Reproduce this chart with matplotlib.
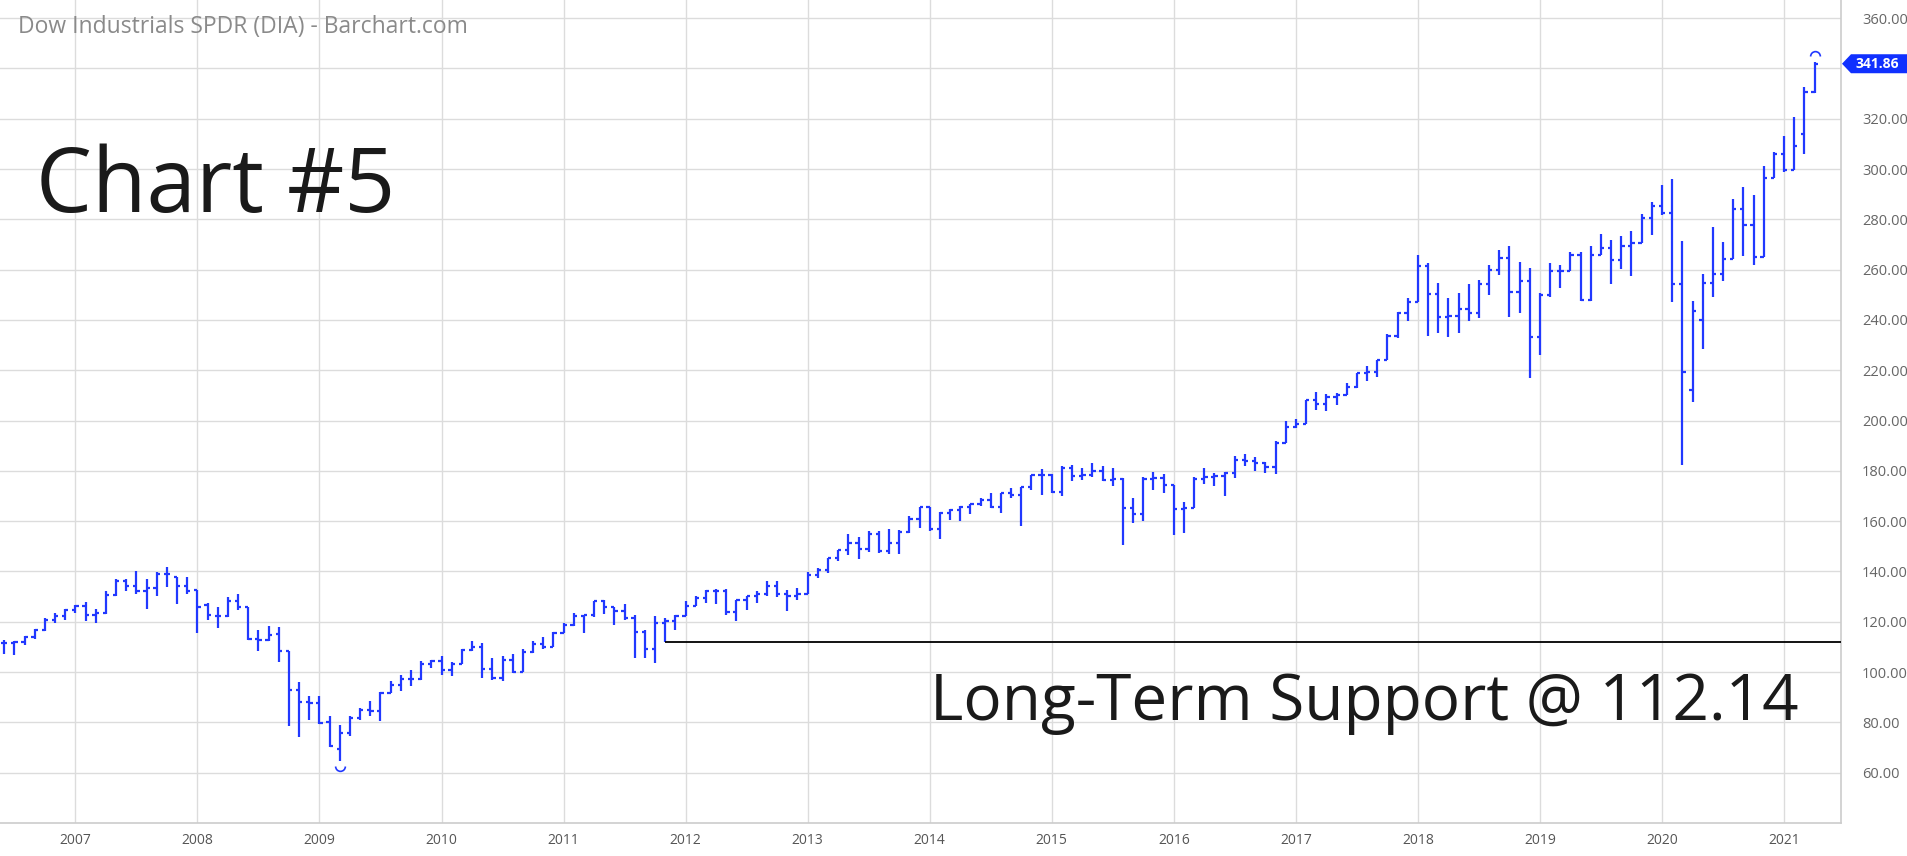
import matplotlib
matplotlib.use("Agg")
import matplotlib.pyplot as plt
from matplotlib.path import Path
from matplotlib.patches import Polygon
import pandas as pd

# monthly OHLC, Jun 2006 -> Apr 2021
opens = [111.7, 111.5, 111.9, 113.8, 116.8, 120.8, 122.2,
         124.6, 126.2, 122.7, 123.5, 130.6, 136.3, 134.1, 132.1, 133.6, 138.9, 137.9, 134.1,
         132.5, 126.8, 122.2, 122.4, 128.1, 126.0, 113.0, 112.8, 115.0, 108.3, 93.0, 88.0,
         87.7, 80.0, 69.5, 75.8, 81.8, 85.0, 84.5, 91.7, 95.0, 97.1, 97.1, 103.4,
         104.3, 100.7, 103.3, 108.6, 110.1, 101.4, 97.7, 104.7, 100.1, 107.9, 111.2, 110.1,
         115.6, 118.9, 122.3, 122.6, 128.1, 125.7, 124.1, 121.4, 116.1, 109.1, 119.6, 120.5,
         122.2, 126.3, 129.5, 132.1, 132.1, 123.9, 128.8, 130.1, 130.9, 134.4, 131.0, 130.3,
         131.0, 138.6, 140.5, 145.3, 148.4, 151.2, 149.1, 155.0, 148.1, 151.3, 155.5, 160.9,
         165.5, 157.0, 163.2, 164.6, 165.8, 166.7, 168.3, 165.6, 171.0, 170.4, 173.4, 178.3,
         178.2, 171.7, 181.3, 177.8, 178.4, 180.1, 176.2, 176.9, 165.3, 162.8, 176.6, 177.2,
         174.3, 164.7, 165.2, 176.9, 177.7, 177.9, 179.3, 184.3, 184.0, 183.1, 181.4, 191.2,
         197.6, 198.6, 208.1, 206.6, 209.4, 210.1, 213.5, 218.9, 219.5, 224.1, 233.8, 242.7,
         247.2, 261.5, 250.3, 241.0, 241.6, 244.2, 242.7, 254.2, 259.7, 264.6, 251.2, 255.5,
         233.2, 250.0, 259.3, 259.3, 265.9, 248.1, 266.0, 268.6, 264.0, 269.2, 270.5, 280.5,
         285.4, 282.6, 254.1, 212.3, 239.8, 254.6, 258.1, 264.3, 284.3, 277.8, 265.0, 296.4,
         306.1, 299.8, 313.8, 330.8]
highs = [112.6, 112.4, 114.4, 117.2, 121.6, 123.6, 125.1,
         126.6, 127.9, 125.0, 132.1, 136.9, 136.9, 140.3, 136.9, 139.9, 141.8, 138.0, 137.7,
         132.5, 127.5, 125.9, 129.7, 131.2, 126.0, 116.9, 118.2, 117.8, 108.3, 96.1, 90.4,
         90.4, 82.7, 78.9, 82.4, 85.7, 88.7, 92.1, 96.3, 98.9, 100.9, 104.5, 105.0,
         106.5, 103.9, 109.1, 112.2, 111.5, 105.6, 106.2, 107.2, 109.1, 112.2, 113.9, 115.8,
         119.5, 123.5, 122.8, 128.1, 128.8, 125.7, 127.2, 122.8, 116.8, 122.1, 121.5, 122.8,
         128.1, 130.1, 132.5, 132.9, 133.0, 128.8, 130.3, 132.1, 136.1, 136.1, 132.7, 133.4,
         139.6, 141.4, 145.3, 148.6, 155.0, 153.9, 155.9, 155.9, 156.8, 156.6, 161.9, 165.6,
         165.5, 163.5, 164.8, 165.9, 166.9, 169.4, 171.2, 171.2, 173.1, 173.5, 178.5, 180.7,
         178.7, 182.0, 182.4, 181.1, 183.1, 181.8, 181.1, 177.0, 169.2, 177.5, 179.4, 178.7,
         174.3, 167.8, 177.5, 181.3, 179.1, 179.7, 186.0, 186.6, 185.4, 183.7, 191.9, 199.9,
         200.7, 208.2, 211.5, 210.5, 210.9, 214.8, 219.0, 221.5, 224.1, 234.3, 243.3, 248.6,
         265.8, 262.8, 254.6, 248.6, 250.7, 254.4, 256.0, 261.9, 267.8, 269.5, 263.0, 260.6,
         250.9, 262.6, 261.7, 267.0, 267.0, 269.2, 274.1, 271.9, 273.4, 275.2, 282.1, 286.8,
         293.7, 296.0, 271.2, 247.7, 258.2, 276.8, 270.8, 288.0, 292.7, 289.7, 301.3, 306.6,
         313.2, 320.6, 332.8, 342.7]
lows = [107.0, 106.8, 110.6, 113.2, 116.5, 119.6, 120.8,
        123.4, 120.2, 119.4, 123.1, 130.4, 132.1, 131.2, 125.1, 130.1, 133.7, 127.2, 131.2,
        115.6, 120.9, 117.5, 122.0, 124.8, 112.9, 108.3, 112.2, 103.9, 78.7, 74.2, 81.1,
        79.5, 70.1, 64.5, 74.5, 81.1, 82.4, 80.4, 91.7, 92.3, 94.3, 96.9, 101.6,
        99.0, 98.3, 103.2, 108.2, 97.6, 96.9, 96.3, 99.6, 100.1, 107.6, 109.1, 110.1,
        115.5, 118.2, 115.5, 122.0, 123.0, 118.6, 120.8, 105.6, 105.6, 103.6, 112.14, 116.8,
        122.2, 126.1, 127.4, 127.2, 122.8, 120.2, 124.5, 127.4, 130.1, 129.7, 124.1, 128.5,
        131.0, 137.4, 139.4, 144.0, 146.6, 145.1, 147.9, 147.3, 147.0, 147.0, 155.3, 157.2,
        155.9, 152.9, 160.6, 159.9, 162.9, 166.0, 165.2, 163.2, 169.1, 158.2, 172.5, 170.5,
        171.2, 170.1, 175.8, 176.5, 177.5, 175.8, 174.1, 150.6, 159.2, 159.9, 172.5, 171.2,
        154.6, 155.2, 165.2, 174.8, 173.8, 170.1, 177.3, 182.0, 180.1, 179.3, 178.7, 191.2,
        197.0, 198.5, 204.0, 203.8, 206.0, 210.1, 212.8, 215.9, 217.5, 224.1, 233.0, 239.6,
        247.2, 233.8, 235.0, 233.1, 235.0, 239.7, 240.7, 250.0, 257.9, 241.1, 242.7, 216.9,
        226.2, 249.3, 252.6, 259.3, 247.4, 247.4, 265.9, 254.4, 260.2, 257.5, 270.5, 273.8,
        281.8, 247.1, 182.2, 207.2, 228.4, 249.1, 255.3, 264.3, 265.5, 261.7, 265.0, 296.4,
        299.0, 299.8, 306.0, 330.4]
closes = [111.5, 111.9, 113.8, 116.8, 120.8, 122.2, 124.6,
          126.2, 122.7, 123.5, 130.6, 136.3, 134.1, 132.1, 133.6, 139.0, 139.0, 134.1, 132.4,
          125.9, 122.8, 122.2, 128.1, 125.9, 113.0, 112.6, 114.6, 108.3, 93.0, 88.0, 87.7,
          79.8, 70.5, 75.8, 81.8, 85.1, 84.5, 91.7, 95.0, 97.1, 97.1, 103.4, 104.3,
          100.7, 103.3, 108.6, 110.1, 101.4, 97.7, 104.7, 100.1, 107.9, 111.2, 110.1, 115.6,
          118.9, 122.3, 122.6, 128.1, 125.7, 124.1, 121.4, 116.1, 109.1, 119.6, 120.5, 122.2,
          126.3, 129.5, 132.1, 132.1, 123.9, 128.8, 130.1, 130.9, 134.4, 131.0, 130.3, 131.0,
          138.6, 140.5, 145.3, 148.4, 151.2, 149.1, 155.0, 148.1, 151.3, 155.5, 160.9, 165.5,
          157.0, 163.2, 164.6, 165.8, 166.7, 168.3, 165.6, 171.0, 170.4, 173.4, 178.3, 178.2,
          171.7, 181.3, 177.8, 178.4, 180.1, 176.2, 176.9, 165.3, 162.8, 176.6, 177.2, 174.3,
          164.7, 165.2, 176.9, 177.7, 177.9, 179.3, 184.3, 184.0, 183.1, 181.4, 191.2, 197.6,
          198.6, 208.1, 206.6, 209.4, 210.1, 213.5, 218.9, 219.5, 224.1, 233.8, 242.7, 247.2,
          261.5, 250.3, 241.0, 241.6, 244.2, 242.7, 254.2, 259.7, 264.6, 251.2, 255.5, 233.2,
          250.0, 259.3, 259.3, 265.9, 248.1, 266.0, 268.6, 264.0, 269.2, 270.5, 280.5, 285.4,
          282.6, 254.1, 219.2, 243.4, 254.6, 258.1, 264.3, 284.3, 277.8, 265.0, 296.4, 306.1,
          299.8, 309.3, 330.8, 341.86]

support = 112.14
support_start = "2011-11"
y_ticks = [60, 80, 100, 120, 140, 160, 180, 200, 220, 240, 260, 280, 300, 320, 340, 360]

months = pd.date_range("2006-06-01", periods=len(closes), freq="MS")
x = list(range(len(closes)))

blue = "#2138ff"
grid = "#dcdcdc"

fig = plt.figure(figsize=(19.07, 8.56), dpi=100)
ax = fig.add_axes([0, 33 / 856, 1841 / 1907, 823 / 856])

# OHLC bars
ax.vlines(x, lows, highs, color=blue, lw=1.6, zorder=3)
ax.hlines(opens, [i - 0.32 for i in x], x, color=blue, lw=1.6, zorder=3)
ax.hlines(closes, x, [i + 0.32 for i in x], color=blue, lw=1.6, zorder=3)

# high / low markers
lo_i = lows.index(min(lows))
hi_i = highs.index(max(highs))
ax.plot(lo_i, lows[lo_i] - 2.0, marker=Path.arc(180, 360), ms=7, mew=1.2,
        color=blue, fillstyle="none", ls="none", zorder=3)
ax.plot(hi_i, highs[hi_i] + 2.4, marker=Path.arc(0, 180), ms=7, mew=1.2,
        color=blue, fillstyle="none", ls="none", zorder=3)

x0, x1 = -0.41, 180.6
sup_i = list(months.strftime("%Y-%m")).index(support_start)
ax.hlines(support, sup_i, x1, color="black", lw=1.3, zorder=4)

ax.set_xlim(x0, x1)
ax.set_ylim(40, 367.2)

year_pos = [i for i, m in enumerate(months) if m.month == 1]
ax.set_xticks(year_pos)
ax.set_xticklabels([str(months[i].year) for i in year_pos], fontsize=10,
                   color="#555555", family="Open Sans")
ax.set_yticks(y_ticks)
# the 340 label sits under the last-price tag, so it is left blank
ax.set_yticklabels(["" if abs(v - closes[-1]) < 8 else "%.2f" % v for v in y_ticks],
                   fontsize=10.5, color="#666666", family="Open Sans")
ax.yaxis.tick_right()
ax.tick_params(axis="y", length=0, pad=15)
ax.tick_params(axis="x", length=0, pad=7)
ax.grid(True, color=grid, lw=1)
ax.set_axisbelow(True)
for s in ["top", "left"]:
    ax.spines[s].set_visible(False)
for s in ["bottom", "right"]:
    ax.spines[s].set_color("#cccccc")
    ax.spines[s].set_linewidth(1.2)

# last price tag
fig.canvas.draw()
ty = ax.transData.transform((0, closes[-1]))[1]
W, H = 1907, 856
pts = [(1842, ty), (1851, ty + 9.5), (1907, ty + 9.5), (1907, ty - 9.5), (1851, ty - 9.5)]
fig.add_artist(Polygon([(px / W, py / H) for px, py in pts], closed=True,
                       transform=fig.transFigure, color="#1030ff", lw=0))
fig.text(1877 / W, ty / H, "%.2f" % closes[-1], color="white", fontsize=10,
         fontweight="bold", ha="center", va="center", family="Open Sans")

fig.text(18 / W, 1 - 27 / H, "Dow Industrials SPDR (DIA) - Barchart.com",
         color="#8a8a8a", fontsize=16.5, va="center", family="Open Sans")
fig.text(36 / W, 1 - 212 / H, "Chart #5", color="#1a1a1a", fontsize=64,
         va="baseline", family="Open Sans")
fig.text(930 / W, 1 - 720 / H, "Long-Term Support @ %.2f" % support, color="#1a1a1a",
         fontsize=46, va="baseline", family="Open Sans")

fig.savefig("out.png", dpi=100)
